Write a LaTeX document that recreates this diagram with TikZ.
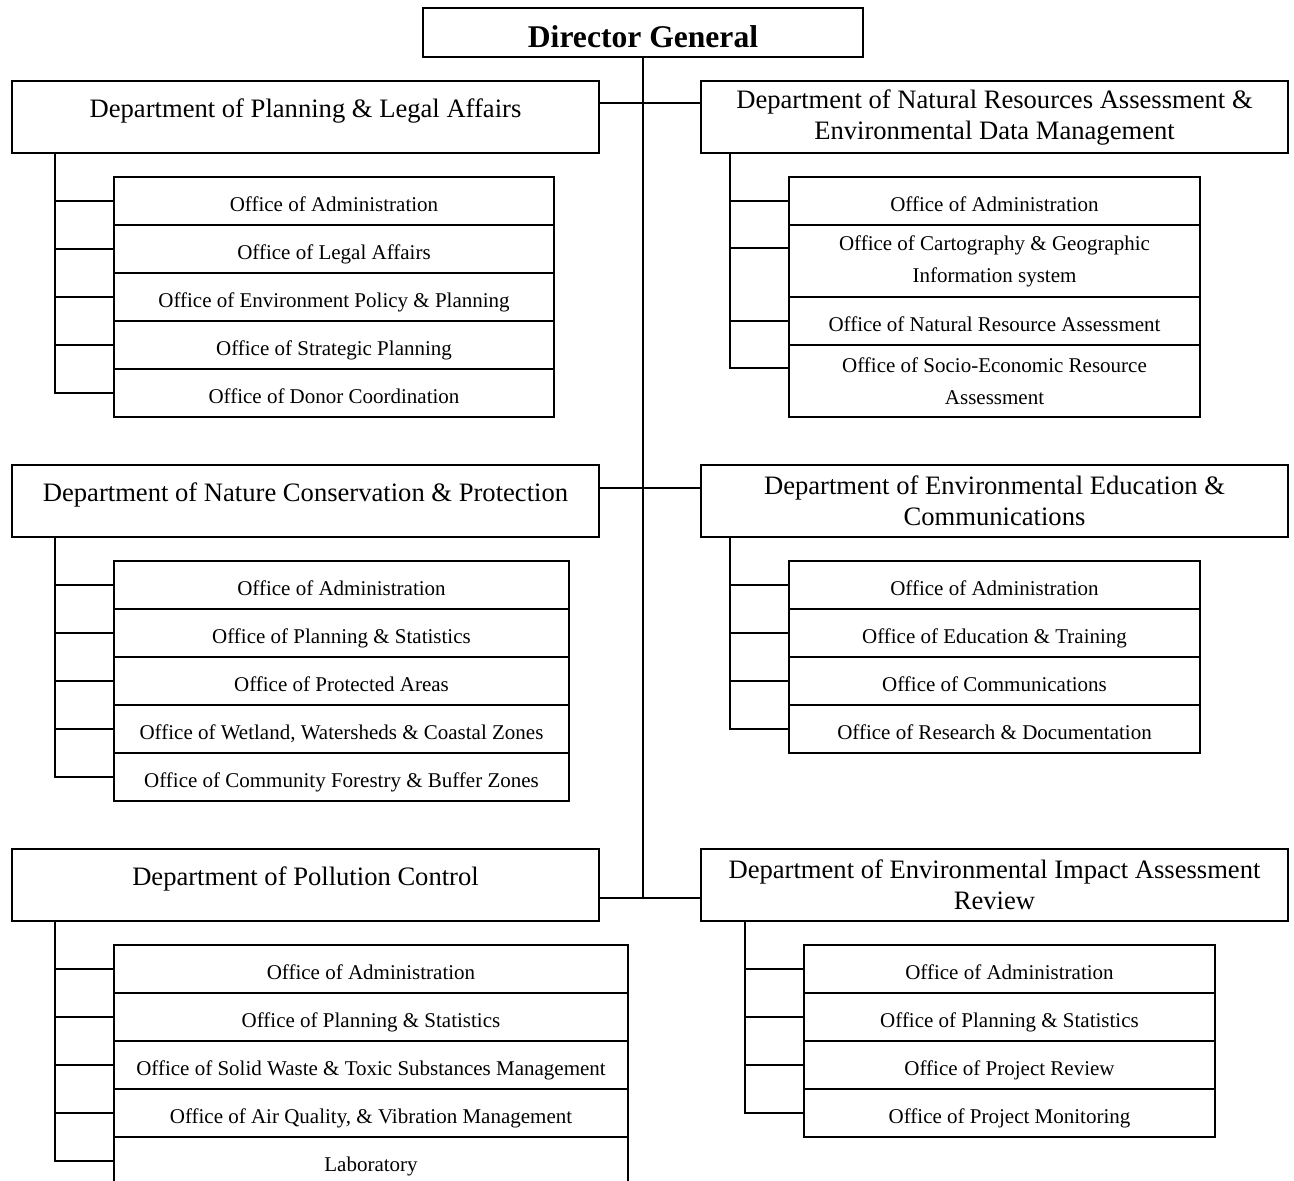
\documentclass[tikz,border=0pt]{standalone}
\usepackage{fontspec}
\setmainfont{Liberation Serif}
\usetikzlibrary{calc}

\newcommand\offfont{\fontsize{10.5}{16}\selectfont}
\newcommand\deptfont{\fontsize{13.3}{15.5}\selectfont}
\newcommand\dgfont{\fontsize{15.8}{19}\selectfont\bfseries}

\tikzset{
  cell/.style 2 args={draw, line width=1pt, rectangle, inner sep=0pt,
    anchor=north west, align=center,
    minimum width=#1*0.5pt, minimum height=#2*0.5pt},
  office/.style={font=\offfont, text height=10.3pt, text depth=0pt},
  officetwo/.style={font=\offfont},
  dept/.style={font=\deptfont, text height=8pt, text depth=8pt},
  depttwo/.style={font=\deptfont},
  chief/.style={font=\dgfont, text height=15pt, text depth=0pt},
  link/.style={line width=1pt}
}

\begin{document}
\begin{tikzpicture}[x=0.5pt, y=-0.5pt]
\useasboundingbox (0,0) rectangle (1294,1180);
\clip (0,0) rectangle (1294,1180);

% Director General
\node[cell={440}{49}, chief] (dg) at (422,7) {Director General};

% Departments
\node[cell={587}{72}, dept]    (dPL)  at (11,80)   {Department of Planning \& Legal Affairs};
\node[cell={587}{72}, depttwo] (dNR)  at (700,80)  {Department of Natural Resources Assessment \&\\Environmental Data Management};
\node[cell={587}{72}, dept]    (dNC)  at (11,464)  {Department of Nature Conservation \& Protection};
\node[cell={587}{72}, depttwo] (dEE)  at (700,464) {Department of Environmental Education \&\\Communications};
\node[cell={587}{72}, dept]    (dPC)  at (11,848)  {Department of Pollution Control};
\node[cell={587}{72}, depttwo] (dEIA) at (700,848) {Department of Environmental Impact Assessment\\Review};

% Offices: Planning & Legal Affairs
\node[cell={440}{48}, office] (pl1) at (113,176) {Office of Administration};
\node[cell={440}{48}, office] (pl2) at (113,224) {Office of Legal Affairs};
\node[cell={440}{48}, office] (pl3) at (113,272) {Office of Environment Policy \& Planning};
\node[cell={440}{48}, office] (pl4) at (113,320) {Office of Strategic Planning};
\node[cell={440}{48}, office] (pl5) at (113,368) {Office of Donor Coordination};

% Offices: Natural Resources Assessment
\node[cell={411}{48}, office]    (nr1) at (788,176) {Office of Administration};
\node[cell={411}{72}, officetwo] (nr2) at (788,224) {Office of Cartography \& Geographic\\Information system};
\node[cell={411}{48}, office]    (nr3) at (788,296) {Office of Natural Resource Assessment};
\node[cell={411}{72}, officetwo] (nr4) at (788,344) {Office of Socio-Economic Resource\\Assessment};

% Offices: Nature Conservation
\node[cell={455}{48}, office] (nc1) at (113,560) {Office of Administration};
\node[cell={455}{48}, office] (nc2) at (113,608) {Office of Planning \& Statistics};
\node[cell={455}{48}, office] (nc3) at (113,656) {Office of Protected Areas};
\node[cell={455}{48}, office] (nc4) at (113,704) {Office of Wetland, Watersheds \& Coastal Zones};
\node[cell={455}{48}, office] (nc5) at (113,752) {Office of Community Forestry \& Buffer Zones};

% Offices: Environmental Education
\node[cell={411}{48}, office] (ee1) at (788,560) {Office of Administration};
\node[cell={411}{48}, office] (ee2) at (788,608) {Office of Education \& Training};
\node[cell={411}{48}, office] (ee3) at (788,656) {Office of Communications};
\node[cell={411}{48}, office] (ee4) at (788,704) {Office of Research \& Documentation};

% Offices: Pollution Control
\node[cell={514}{48}, office] (pc1) at (113,944)  {Office of Administration};
\node[cell={514}{48}, office] (pc2) at (113,992)  {Office of Planning \& Statistics};
\node[cell={514}{48}, office] (pc3) at (113,1040) {Office of Solid Waste \& Toxic Substances Management};
\node[cell={514}{48}, office] (pc4) at (113,1088) {Office of Air Quality, \& Vibration Management};
\node[cell={514}{48}, office] (pc5) at (113,1136) {Laboratory};

% Offices: EIA Review
\node[cell={411}{48}, office] (ei1) at (803,944)  {Office of Administration};
\node[cell={411}{48}, office] (ei2) at (803,992)  {Office of Planning \& Statistics};
\node[cell={411}{48}, office] (ei3) at (803,1040) {Office of Project Review};
\node[cell={411}{48}, office] (ei4) at (803,1088) {Office of Project Monitoring};

% Central trunk and department links
\coordinate (jc) at ($(dPC.south east)+(0,-24)$);
\draw[link] (dg.south) -- (dg.south |- jc);
\coordinate (j1) at ($(dPL.north east)+(0,23)$);
\coordinate (j2) at ($(dNC.north east)+(0,24)$);
\draw[link] (j1) -- (j1 -| dNR.west);
\draw[link] (j2) -- (j2 -| dEE.west);
\draw[link] (jc) -- (jc -| dEIA.west);

% Office links: Planning & Legal Affairs
\coordinate (tPL) at ($(dPL.south west)+(44,0)$);
\draw[link] (tPL) |- (pl5.west);
\foreach \i in {1,...,4} \draw[link] (pl\i.west) -- (pl\i.west -| tPL);

% Office links: Natural Resources Assessment
\coordinate (tNR) at ($(dNR.south west)+(30,0)$);
\coordinate (nr2s) at ($(nr2.north west)+(0,24)$);
\coordinate (nr4s) at ($(nr4.north west)+(0,24)$);
\draw[link] (tNR) |- (nr4s);
\draw[link] (nr1.west) -- (nr1.west -| tNR);
\draw[link] (nr2s) -- (nr2s -| tNR);
\draw[link] (nr3.west) -- (nr3.west -| tNR);

% Office links: Nature Conservation
\coordinate (tNC) at ($(dNC.south west)+(44,0)$);
\draw[link] (tNC) |- (nc5.west);
\foreach \i in {1,...,4} \draw[link] (nc\i.west) -- (nc\i.west -| tNC);

% Office links: Environmental Education
\coordinate (tEE) at ($(dEE.south west)+(30,0)$);
\draw[link] (tEE) |- (ee4.west);
\foreach \i in {1,...,3} \draw[link] (ee\i.west) -- (ee\i.west -| tEE);

% Office links: Pollution Control
\coordinate (tPC) at ($(dPC.south west)+(44,0)$);
\draw[link] (tPC) |- (pc5.west);
\foreach \i in {1,...,4} \draw[link] (pc\i.west) -- (pc\i.west -| tPC);

% Office links: EIA Review
\coordinate (tEI) at ($(dEIA.south west)+(45,0)$);
\draw[link] (tEI) |- (ei4.west);
\foreach \i in {1,...,3} \draw[link] (ei\i.west) -- (ei\i.west -| tEI);
\end{tikzpicture}
\end{document}
